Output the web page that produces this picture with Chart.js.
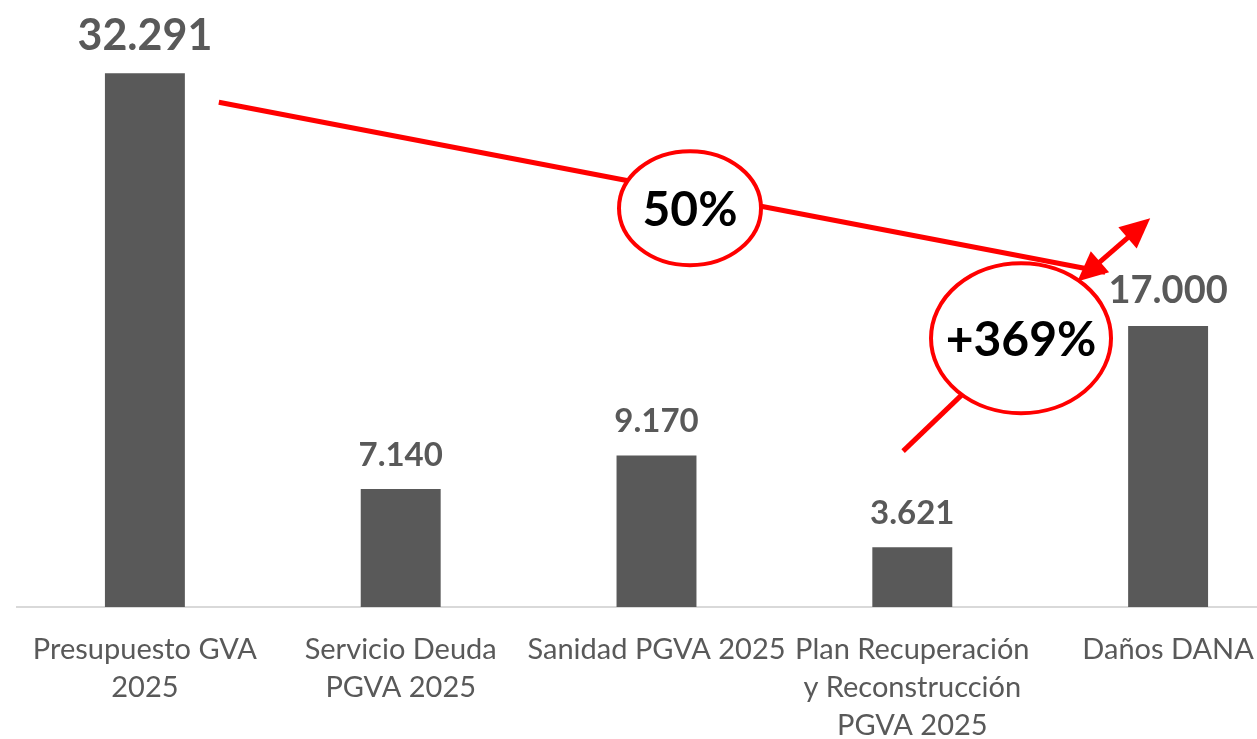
<!DOCTYPE html>
<html>
<head>
<meta charset="utf-8">
<script src="https://cdn.jsdelivr.net/npm/chart.js@4.4.1/dist/chart.umd.min.js"></script>
<style>
  html, body { margin: 0; padding: 0; background: #fff; overflow: hidden; }
  #wrap { width: 1310px; height: 739px; }
</style>
</head>
<body>
<div id="wrap"><canvas id="c"></canvas></div>
<script>
// chart data
const categories = [
  ['Presupuesto GVA', '2025'],
  ['Servicio Deuda', 'PGVA 2025'],
  'Sanidad PGVA 2025',
  ['Plan Recuperación', 'y Reconstrucción', 'PGVA 2025'],
  'Daños DANA'
];
const amounts = [32291, 7140, 9170, 3621, 17000];
const amountLabels = ['32.291', '7.140', '9.170', '3.621', '17.000'];

// callouts drawn over the bars (data space: category index, value)
const callouts = {
  trend: { from: [0.289, 30537], to: [3.754, 20258] },
  trendBadge: { at: [2.131, 24128], text: '50%' },
  rise: { from: [2.964, 9433], to: [3.425, 16267] },
  riseBadge: { at: [3.425, 16267], text: '+369%' },
  riseArrow: { from: [3.645, 19700], to: [3.930, 23523] }
};

const RED = '#ff0000';
const GREY = '#595959';
const labelSizes = [43, 33, 33, 33, 38];

function arrowHead(ctx, x1, y1, x2, y2) {
  const a = Math.atan2(y2 - y1, x2 - x1);
  const len = 30, half = 14;
  ctx.beginPath();
  ctx.moveTo(x2, y2);
  ctx.lineTo(x2 - len * Math.cos(a) + half * Math.sin(a), y2 - len * Math.sin(a) - half * Math.cos(a));
  ctx.lineTo(x2 - len * Math.cos(a) - half * Math.sin(a), y2 - len * Math.sin(a) + half * Math.cos(a));
  ctx.closePath();
  ctx.fill();
}

const overlay = {
  id: 'overlay',
  afterDatasetsDraw(chart) {
    const ctx = chart.ctx;
    const xs = chart.scales.x, ys = chart.scales.y;
    const P = (p) => [xs.getPixelForValue(p[0]), ys.getPixelForValue(p[1])];

    // value labels
    const meta = chart.getDatasetMeta(0);
    ctx.save();
    ctx.fillStyle = GREY;
    ctx.textAlign = 'center';
    ctx.textBaseline = 'alphabetic';
    meta.data.forEach((bar, i) => {
      ctx.font = 'bold ' + labelSizes[i] + 'px Lato';
      ctx.fillText(amountLabels[i], bar.x, bar.y - 23);
    });
    ctx.restore();

    ctx.save();
    ctx.strokeStyle = RED;
    ctx.fillStyle = RED;
    ctx.lineCap = 'butt';

    // long trend line
    let a = P(callouts.trend.from), b = P(callouts.trend.to);
    ctx.lineWidth = 5;
    ctx.beginPath(); ctx.moveTo(a[0], a[1]); ctx.lineTo(b[0], b[1]); ctx.stroke();

    // rising line into second badge
    a = P(callouts.rise.from); b = P(callouts.rise.to);
    ctx.beginPath(); ctx.moveTo(a[0], a[1]); ctx.lineTo(b[0], b[1]); ctx.stroke();

    // badges
    const badge = (c, rx, ry, text) => {
      const p = P(c.at);
      ctx.beginPath();
      ctx.ellipse(p[0], p[1], rx, ry, 0, 0, Math.PI * 2);
      ctx.fillStyle = '#fff';
      ctx.fill();
      ctx.lineWidth = 4;
      ctx.strokeStyle = RED;
      ctx.stroke();
      ctx.fillStyle = '#000';
      ctx.font = 'bold 48px Lato';
      ctx.textAlign = 'center';
      ctx.textBaseline = 'middle';
      ctx.fillText(text, p[0], p[1] + 2);
    };
    badge(callouts.trendBadge, 71, 57, callouts.trendBadge.text);
    badge(callouts.riseBadge, 90, 75, callouts.riseBadge.text);

    // double headed arrow
    a = P(callouts.riseArrow.from); b = P(callouts.riseArrow.to);
    ctx.strokeStyle = RED; ctx.fillStyle = RED; ctx.lineWidth = 5;
    const ang = Math.atan2(b[1] - a[1], b[0] - a[0]);
    ctx.beginPath();
    ctx.moveTo(a[0] + 20 * Math.cos(ang), a[1] + 20 * Math.sin(ang));
    ctx.lineTo(b[0] - 20 * Math.cos(ang), b[1] - 20 * Math.sin(ang));
    ctx.stroke();
    arrowHead(ctx, a[0], a[1], b[0], b[1]);
    arrowHead(ctx, b[0], b[1], a[0], a[1]);
    ctx.restore();
  }
};

new Chart(document.getElementById('c'), {
  type: 'bar',
  data: {
    labels: categories,
    datasets: [{
      data: amounts,
      backgroundColor: GREY,
      borderWidth: 0,
      categoryPercentage: 1,
      barPercentage: 0.3125
    }]
  },
  options: {
    responsive: true,
    maintainAspectRatio: false,
    animation: false,
    layout: { padding: { left: 17, right: 14, top: 12, bottom: 0 } },
    plugins: { legend: { display: false }, tooltip: { enabled: false } },
    scales: {
      x: {
        grid: { display: false, drawTicks: false },
        border: { display: true, color: '#d9d9d9', width: 2 },
        ticks: {
          color: GREY,
          font: { family: 'Lato', size: 29, lineHeight: 1.31 },
          padding: 24,
          autoSkip: false,
          maxRotation: 0
        },
        afterFit(scale) { scale.height = 132; }
      },
      y: {
        display: false,
        min: 0,
        max: 36000
      }
    }
  },
  plugins: [overlay]
});
</script>
</body>
</html>
